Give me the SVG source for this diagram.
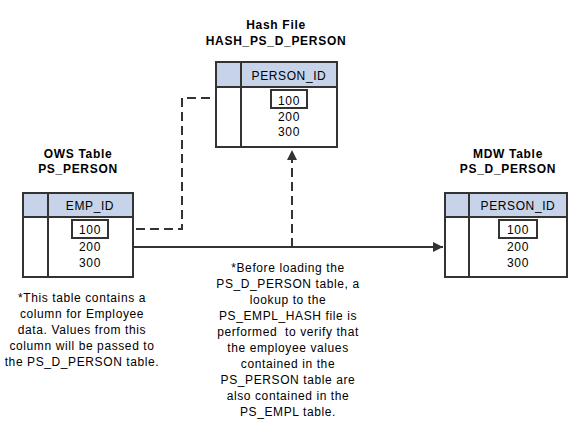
<svg xmlns="http://www.w3.org/2000/svg" width="569" height="435" viewBox="0 0 569 435">
<style>
.box{fill:#fff;stroke:#333;stroke-width:2}
.hdr{fill:#c6d3e8;stroke:#333;stroke-width:2}
.cell{fill:#fff;stroke:#333;stroke-width:2}
.ln{fill:none;stroke:#333;stroke-width:2}
.t{font-family:"Liberation Sans",Arial,sans-serif;font-size:12px;fill:#000;text-anchor:middle;letter-spacing:0.6px}
.b{font-weight:bold;letter-spacing:0.7px}
</style>
<defs>
<marker id="ah" viewBox="0 0 10 10" refX="10" refY="5" markerWidth="5" markerHeight="5" orient="auto" markerUnits="strokeWidth">
<path d="M0,0 L10,5 L0,10 z" fill="#333"/>
</marker>
</defs>
<rect width="569" height="435" fill="#fff"/>
<g id="connectors">
<path class="ln" d="M108,229 H182 V98 H271" stroke-dasharray="9,5"/>
<path class="ln" d="M133,247 H443" marker-end="url(#ah)"/>
<path class="ln" d="M292,247 V150" stroke-dasharray="9,5" marker-end="url(#ah)"/>
</g>
<g id="hash">
<text class="t b" x="276" y="29">Hash File</text>
<text class="t b" x="276" y="45">HASH_PS_D_PERSON</text>
<rect class="hdr" x="216" y="62" width="121" height="25"/>
<rect class="box" x="216" y="87" width="121" height="60"/>
<line class="ln" x1="241" y1="62" x2="241" y2="147"/>
<text class="t" x="289" y="80">PERSON_ID</text>
<rect class="cell" x="271" y="90" width="36" height="18"/>
<text class="t" x="289" y="105">100</text>
<text class="t" x="289" y="121">200</text>
<text class="t" x="289" y="136">300</text>
</g>
<g id="ows">
<text class="t b" x="78" y="158">OWS Table</text>
<text class="t b" x="78" y="173">PS_PERSON</text>
<rect class="hdr" x="23" y="193" width="110" height="24"/>
<rect class="box" x="23" y="217" width="110" height="60"/>
<line class="ln" x1="48" y1="193" x2="48" y2="277"/>
<text class="t" x="90" y="210">EMP_ID</text>
<rect class="cell" x="72" y="220" width="36" height="18"/>
<text class="t" x="90" y="234">100</text>
<text class="t" x="90" y="251">200</text>
<text class="t" x="90" y="267">300</text>
</g>
<g id="mdw">
<text class="t b" x="508" y="158">MDW Table</text>
<text class="t b" x="508" y="173">PS_D_PERSON</text>
<rect class="hdr" x="445" y="193" width="122" height="24"/>
<rect class="box" x="445" y="217" width="122" height="60"/>
<line class="ln" x1="469" y1="193" x2="469" y2="277"/>
<text class="t" x="518" y="210">PERSON_ID</text>
<rect class="cell" x="499" y="220" width="38" height="18"/>
<text class="t" x="518" y="234">100</text>
<text class="t" x="518" y="251">200</text>
<text class="t" x="518" y="267">300</text>
</g>
<g id="note1">
<text class="t" x="82" y="302">*This table contains a</text>
<text class="t" x="82" y="318">column for Employee</text>
<text class="t" x="82" y="334">data. Values from this</text>
<text class="t" x="82" y="350">column will be passed to</text>
<text class="t" x="82" y="366">the PS_D_PERSON table.</text>
</g>
<g id="note2">
<text class="t" x="288" y="272">*Before loading the</text>
<text class="t" x="288" y="288">PS_D_PERSON table, a</text>
<text class="t" x="288" y="304">lookup to the</text>
<text class="t" x="288" y="320">PS_EMPL_HASH file is</text>
<text class="t" x="288" y="336" xml:space="preserve">performed  to verify that</text>
<text class="t" x="288" y="352">the employee values</text>
<text class="t" x="288" y="368">contained in the</text>
<text class="t" x="288" y="384">PS_PERSON table are</text>
<text class="t" x="288" y="400">also contained in the</text>
<text class="t" x="288" y="416">PS_EMPL table.</text>
</g>
</svg>
